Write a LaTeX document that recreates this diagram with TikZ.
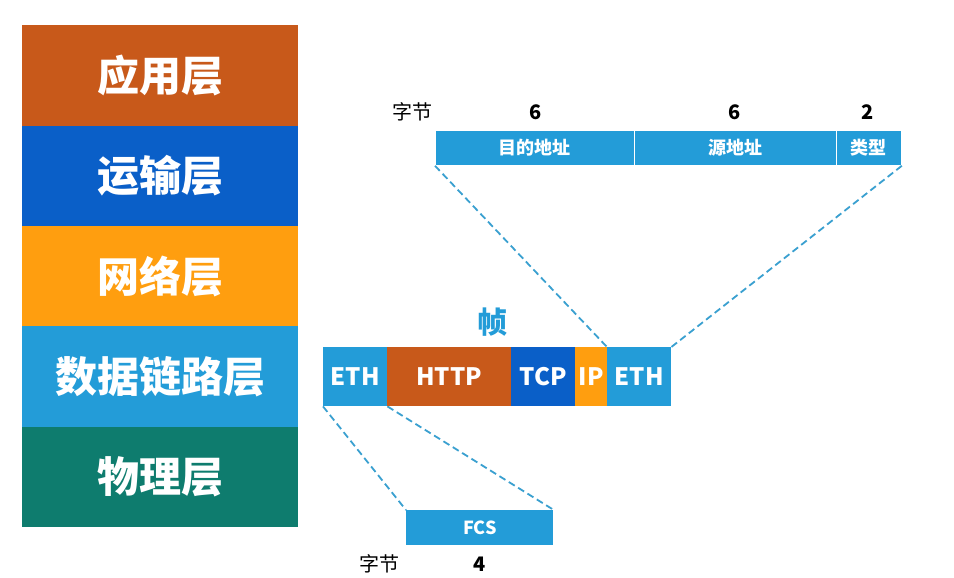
\documentclass[tikz,border=0pt]{standalone}
\usepackage{fontspec}
\setmainfont{Noto Sans CJK SC}
\begin{document}
\begin{tikzpicture}[x=1pt,y=-1pt,
  layer/.style={minimum width=276pt,minimum height=100.4pt,inner sep=0pt,text=white,font=\fontsize{42}{42}\selectfont\bfseries,anchor=north west},
  seg/.style={minimum height=59pt,inner sep=0pt,text=white,font=\fontsize{24}{24}\selectfont\bfseries,anchor=north west},
  field/.style={minimum height=35pt,inner sep=0pt,text=white,fill=lblue,draw=white,line width=0.8pt,font=\fontsize{18}{18}\selectfont\bfseries,anchor=north west},
  lbl/.style={text=black,font=\fontsize{20}{20}\selectfont,inner sep=0pt},
  num/.style={text=black,font=\fontsize{20}{20}\selectfont\bfseries,inner sep=0pt},
  zoomline/.style={dashed,dash pattern=on 7pt off 4pt,draw=dline,line width=1.8pt}]
\definecolor{appc}{HTML}{C8591A}
\definecolor{tcpc}{HTML}{0A5FC8}
\definecolor{ipc}{HTML}{FF9E0F}
\definecolor{lblue}{HTML}{239CD8}
\definecolor{phyc}{HTML}{0E7C6E}
\definecolor{dline}{HTML}{3AA0D0}
\useasboundingbox[fill=white] (0,0) rectangle (954,578);
% layer stack
\node[layer,fill=appc] (app) at (22,25) {应用层};
\node[layer,fill=tcpc] (trn) at (22,125.4) {运输层};
\node[layer,fill=ipc] (net) at (22,225.8) {网络层};
\node[layer,fill=lblue] (dl) at (22,326.2) {数据链路层};
\node[layer,fill=phyc] (phy) at (22,426.6) {物理层};
% header fields
\node[field,minimum width=199pt] (dst) at (435,130) {目的地址};
\node[field,minimum width=202pt] (src) at (634,130) {源地址};
\node[field,minimum width=65pt] (typ) at (836,130) {类型};
\node[lbl] (zj1) at (412,112) {字节};
\node[num] (n1) at (536,112) {6};
\node[num] (n2) at (735,112) {6};
\node[num] (n3) at (868,112) {2};
% frame
\node[text=lblue,font=\fontsize{30}{30}\selectfont\bfseries,inner sep=0pt] (zhen) at (492,322) {帧};
\node[seg,fill=lblue,minimum width=64pt] (eth1) at (323,347) {ETH};
\node[seg,fill=appc,minimum width=124pt] (http) at (387,347) {HTTP};
\node[seg,fill=tcpc,minimum width=64pt] (tcp) at (511,347) {TCP};
\node[seg,fill=ipc,minimum width=32pt] (ip) at (575,347) {IP};
\node[seg,fill=lblue,minimum width=64pt] (eth2) at (607,347) {ETH};
% FCS
\node[field,draw=none,minimum width=147pt,minimum height=35pt] (fcs) at (406,510) {FCS};
\node[lbl] (zj2) at (379,564) {字节};
\node[num] (n4) at (480,564) {4};
% dashed zoom lines
\draw[zoomline] (dst.south west) -- (eth2.north west);
\draw[zoomline] (typ.south east) -- (eth2.north east);
\draw[zoomline] (eth1.south west) -- (fcs.north west);
\draw[zoomline] (eth1.south east) -- (fcs.north east);
\end{tikzpicture}
\end{document}
